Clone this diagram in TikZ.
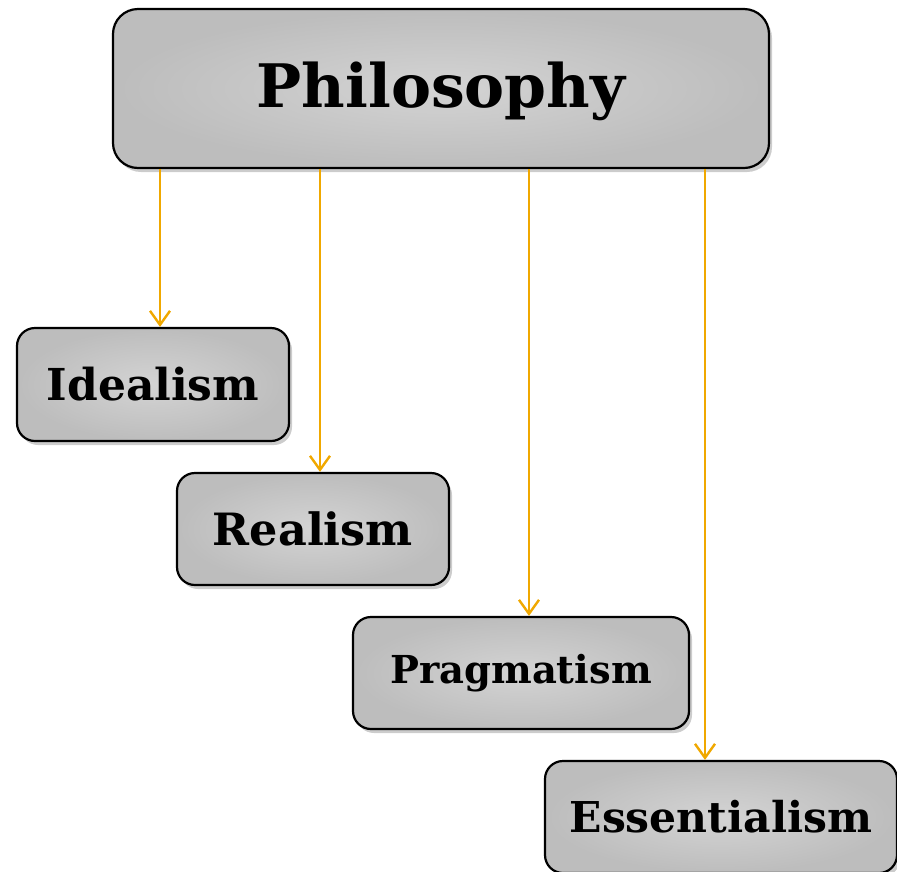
\documentclass[tikz,border=0pt]{standalone}
\usepackage{fontspec}
\setmainfont{DejaVu Serif}
\usetikzlibrary{arrows.meta,shadows}
\definecolor{arrowc}{HTML}{F0A800}
\tikzset{
  box/.style={draw=black, line width=2.2pt, rounded corners=18pt,
    inner color=gray!34, outer color=gray!52,
    drop shadow={opacity=0.4, shadow xshift=3pt, shadow yshift=-4pt},
    font=\bfseries, text=black},
  arr/.style={draw=arrowc, line width=2.4pt, -{Straight Barb[length=14pt,width=20pt,line width=2.4pt]}},
}
\begin{document}
\begin{tikzpicture}[x=1pt,y=-1pt]
\useasboundingbox (0,0) rectangle (897,871);
\node[box, rounded corners=25pt, minimum width=656pt, minimum height=159pt, text depth=8pt, font=\bfseries\fontsize{60}{60}\selectfont] (philo) at (441,88.5) {Philosophy};
\node[box, minimum width=272pt, minimum height=113pt, font=\bfseries\fontsize{44}{44}\selectfont] (ideal) at (153,384.5) {Idealism};
\node[box, minimum width=272pt, minimum height=112pt, font=\bfseries\fontsize{44.5}{44.5}\selectfont] (real) at (313,529) {Realism};
\node[box, minimum width=336pt, minimum height=112pt, font=\bfseries\fontsize{38.5}{38.5}\selectfont] (prag) at (521,673) {Pragmatism};
\node[box, minimum width=352pt, minimum height=112pt, font=\bfseries\fontsize{42.5}{42.5}\selectfont] (ess) at (721,817) {Essentialism};
\coordinate (c1) at (160,0);
\coordinate (c2) at (320,0);
\coordinate (c3) at (529,0);
\coordinate (c4) at (705,0);
\draw[arr] (philo.south -| c1) -- (ideal.north -| c1);
\draw[arr] (philo.south -| c2) -- (real.north -| c2);
\draw[arr] (philo.south -| c3) -- (prag.north -| c3);
\draw[arr] (philo.south -| c4) -- (ess.north -| c4);
\end{tikzpicture}
\end{document}
